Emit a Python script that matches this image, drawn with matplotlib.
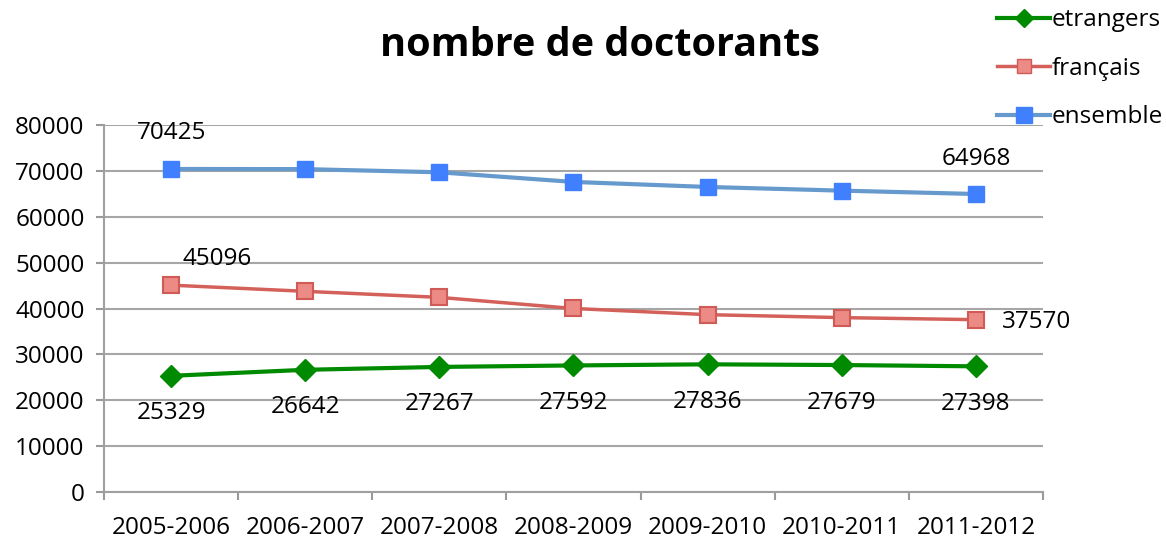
import matplotlib.pyplot as plt
from matplotlib.lines import Line2D

# data
annees = ["2005-2006", "2006-2007", "2007-2008", "2008-2009",
          "2009-2010", "2010-2011", "2011-2012"]
etrangers = [25329, 26642, 27267, 27592, 27836, 27679, 27398]
francais = [45096, 43750, 42430, 40010, 38660, 38020, 37570]
ensemble = [70425, 70390, 69700, 67600, 66500, 65700, 64968]

plt.rcParams["font.family"] = ["Open Sans", "DejaVu Sans"]
FS = 17.5

fig = plt.figure(figsize=(11.66, 5.39), dpi=100)
ax = fig.add_axes([0.0892, 0.0872, 0.8053, 0.6808])

x = list(range(len(annees)))

ax.plot(x, etrangers, color="#008A00", lw=3, marker="D", ms=11,
        mfc="#008A00", mec="#008A00", zorder=3)
ax.plot(x, francais, color="#D4605A", lw=2.5, marker="s", ms=11,
        mfc="#EC8A86", mec="#D05A55", mew=1.5, zorder=3)
ax.plot(x, ensemble, color="#6699CC", lw=3, marker="s", ms=12,
        mfc="#4080FF", mec="#4080FF", zorder=3)

# value labels
for i in range(len(annees)):
    ax.annotate(str(etrangers[i]), (i, etrangers[i]), xytext=(0, -27),
                textcoords="offset points", ha="center", va="center", fontsize=FS)
ax.annotate(str(francais[0]), (0, francais[0]), xytext=(33, 19),
            textcoords="offset points", ha="center", va="center", fontsize=FS)
ax.annotate(str(francais[-1]), (6, francais[-1]), xytext=(44, -2),
            textcoords="offset points", ha="center", va="center", fontsize=FS)
ax.annotate(str(ensemble[0]), (0, ensemble[0]), xytext=(0, 26),
            textcoords="offset points", ha="center", va="center", fontsize=FS)
ax.annotate(str(ensemble[-1]), (6, ensemble[-1]), xytext=(0, 25),
            textcoords="offset points", ha="center", va="center", fontsize=FS)

ax.set_xlim(-0.5, len(annees) - 0.5)
ax.set_ylim(0, 80000)
ax.set_yticks(range(0, 80001, 10000))
ax.set_yticklabels([str(v) for v in range(0, 80001, 10000)], fontsize=FS)
ax.set_xticks([i - 0.5 for i in range(len(annees) + 1)])
ax.set_xticklabels([])
ax.set_xticks(x, minor=True)
ax.set_xticklabels(annees, minor=True, fontsize=FS)
ax.tick_params(axis="x", which="minor", length=0, pad=17)
ax.tick_params(axis="x", which="major", length=6, color="#999999", width=1.5)
ax.tick_params(axis="y", length=6, color="#999999", width=1.5, pad=8)

ax.grid(axis="y", color="#A6A6A6", lw=1.5)
ax.set_axisbelow(True)
for side in ["top", "right"]:
    ax.spines[side].set_visible(False)
for side in ["left", "bottom"]:
    ax.spines[side].set_color("#A0A0A0")
    ax.spines[side].set_linewidth(1.5)

fig.text(0.515, 0.915, "nombre de doctorants", ha="center", va="center",
         fontsize=28.5, fontweight="bold")

handles = [
    Line2D([], [], color="#008A00", lw=3, marker="D", ms=9, mfc="#008A00", mec="#008A00"),
    Line2D([], [], color="#D4605A", lw=2.5, marker="s", ms=10, mfc="#EC8A86", mec="#D05A55"),
    Line2D([], [], color="#6699CC", lw=3, marker="s", ms=11, mfc="#4080FF", mec="#4080FF"),
]
fig.legend(handles, ["etrangers", "français", "ensemble"], loc="upper right",
           bbox_to_anchor=(1.016, 1.025), frameon=False, fontsize=FS,
           handlelength=2.2, handletextpad=0.05, labelspacing=1.0)

fig.savefig("out.png", dpi=100)
